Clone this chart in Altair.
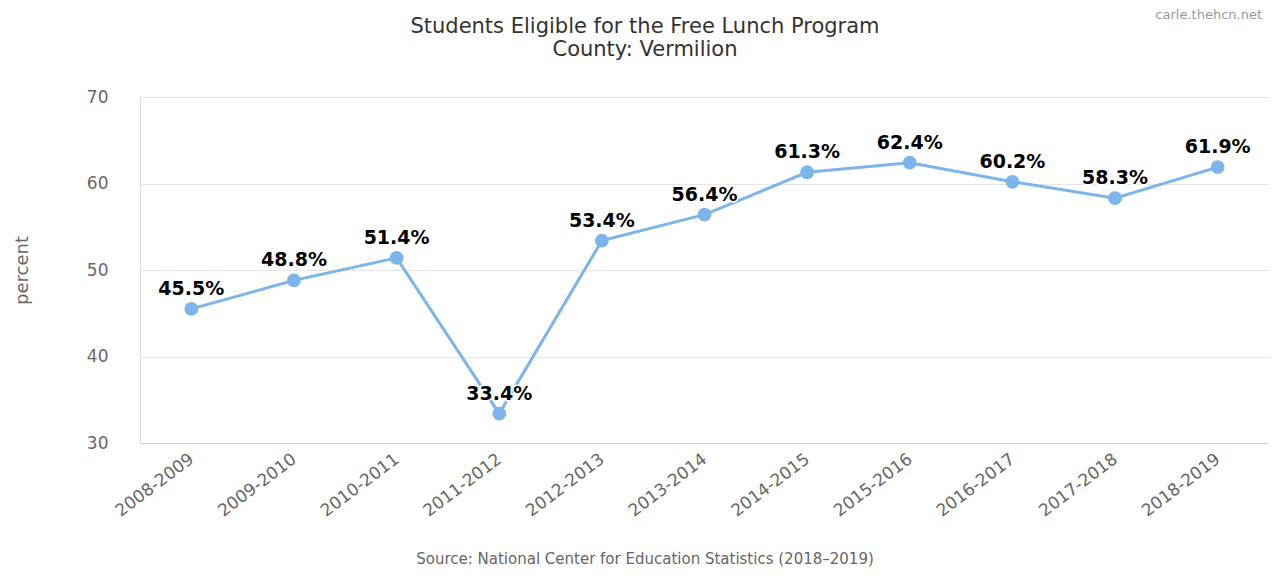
import altair as alt
import pandas as pd

years = ["2008-2009", "2009-2010", "2010-2011", "2011-2012", "2012-2013",
         "2013-2014", "2014-2015", "2015-2016", "2016-2017", "2017-2018", "2018-2019"]
values = [45.5, 48.8, 51.4, 33.4, 53.4, 56.4, 61.3, 62.4, 60.2, 58.3, 61.9]
y_ticks = [30, 40, 50, 60, 70]

title_lines = "Students Eligible for the Free Lunch Program\nCounty: Vermilion"
source_text = "Source: National Center for Education Statistics (2018\u20132019)"
credit_text = "carle.thehcn.net"

df = pd.DataFrame({"year": years, "value": values})
df["label"] = df["value"].map(lambda v: f"{v:.1f}%")

FONT = "DejaVu Sans"
W, H = 1129, 346

x_enc = alt.X("year:N", sort=years,
              scale=alt.Scale(type="point", padding=0.5),
              axis=alt.Axis(title=None, labelAngle=-37, labelAlign="right",
                            labelBaseline="middle", labelPadding=14,
                            labelFontSize=17, labelColor="#666666", labelFont=FONT,
                            ticks=False, domainColor="#ccd6eb", domainWidth=1,
                            grid=False, labelOverlap=False))
y_enc = alt.Y("value:Q",
              scale=alt.Scale(domain=[30, 70], nice=False, zero=False),
              axis=alt.Axis(values=y_ticks, title="percent", labelFontSize=17,
                            labelColor="#666666", labelFont=FONT, labelPadding=32,
                            ticks=False, domain=False, gridColor="#e6e6e6",
                            titleFont=FONT, titleFontSize=18, titleFontWeight="normal",
                            titleColor="#666666", titleAngle=270, titleX=-118,
                            titleY=H / 2, titleAlign="center", titleBaseline="middle"))

base = alt.Chart(df).encode(x=x_enc, y=y_enc)

line = base.mark_line(color="#7cb5ec", strokeWidth=3)
pts = base.mark_circle(color="#7cb5ec", size=190, opacity=1)
halo = base.mark_text(dy=-20, font=FONT, fontSize=19, fontWeight="bold",
                      stroke="white", strokeWidth=3, color="white").encode(text="label:N")
labels = base.mark_text(dy=-20, font=FONT, fontSize=19, fontWeight="bold",
                        color="#000000").encode(text="label:N")

title = alt.Chart(pd.DataFrame({"t": [title_lines]})).mark_text(
    font=FONT, fontSize=21, color="#333333", align="center", baseline="top",
    lineBreak="\n", lineHeight=23
).encode(x=alt.value(505), y=alt.value(-81), text="t:N")

source = alt.Chart(pd.DataFrame({"t": [source_text]})).mark_text(
    font=FONT, fontSize=15, color="#666666", align="center", baseline="alphabetic"
).encode(x=alt.value(505), y=alt.value(467), text="t:N")

credit = alt.Chart(pd.DataFrame({"t": [credit_text]})).mark_text(
    font=FONT, fontSize=13, color="#999999", align="right", baseline="middle"
).encode(x=alt.value(1122), y=alt.value(-82), text="t:N")

chart = alt.layer(line, pts, halo, labels, title, source, credit).properties(
    width=W, height=H,
    autosize=alt.AutoSizeParams(type="none"),
    padding={"left": 132, "top": 89, "right": 0, "bottom": 124},
).configure_view(stroke="transparent", strokeWidth=0
).configure_axisY(domain=False, ticks=False
).configure_axisX(grid=False
).configure(background="white")

chart.save("out.html", embed_options={"renderer": "svg", "actions": False})
